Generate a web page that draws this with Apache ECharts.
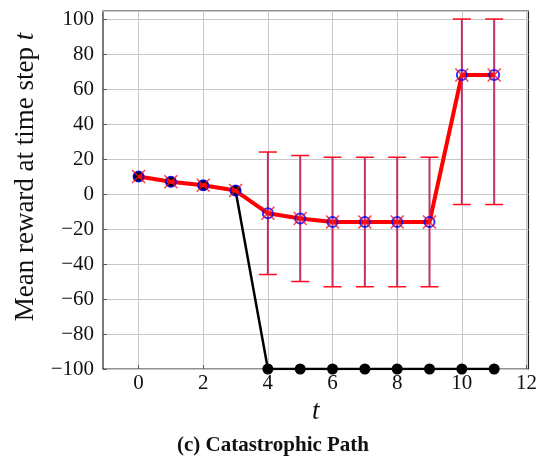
<!DOCTYPE html>
<html><head><meta charset="utf-8">
<script src="https://cdn.jsdelivr.net/npm/echarts@6/dist/echarts.min.js"></script>
<style>html,body{margin:0;padding:0;background:#fff}#c{width:540px;height:464px}</style>
</head><body><div id="c"></div>
<script>
const tSteps = [0,1,2,3,4,5,6,7,8,9,10,11];
const meanReward = [10,7,5,2,-11,-14,-16,-16,-16,-16,68,68];
const errLow = [10,7,5,2,-46,-50,-53,-53,-53,-53,-6,-6];
const errHigh = [10,7,5,2,24,22,21,21,21,21,100,100];
const catastrophic = [10,7,5,2,-100,-100,-100,-100,-100,-100,-100,-100];
const xTicks = [0,2,4,6,8,10,12];
const xRange = [-1.1, 12.06];
const yRange = [-100, 104.6];

const serif = '"Liberation Serif", "DejaVu Serif", serif';
const fmt = v => String(v).replace('-', '\u2212');

const chart = echarts.init(document.getElementById('c'), null, {renderer:'canvas'});
const pts = (ys) => tSteps.map((t,i)=>[t, ys[i]]);
const errData = tSteps.map((t,i)=>[t, errLow[i], errHigh[i]]);

chart.setOption({
  animation:false,
  grid:{left:103, right:11, top:11, bottom:95, show:true, borderColor:'#222', borderWidth:1.2},
  xAxis:{type:'value', min:xRange[0], max:xRange[1],
    axisLine:{show:false, onZero:false},
    axisTick:{inside:true, length:4, lineStyle:{color:'#555'}, customValues:xTicks},
    axisLabel:{fontFamily:serif, fontSize:21, color:'#111', margin:4, formatter:fmt, customValues:xTicks},
    splitLine:{show:false},
    name:'t', nameLocation:'middle', nameGap:24,
    nameTextStyle:{fontFamily:serif, fontSize:27, fontStyle:'italic', color:'#111'}},
  yAxis:{type:'value', min:yRange[0], max:yRange[1], interval:20,
    axisLine:{show:false, onZero:false},
    axisTick:{inside:true, length:4, lineStyle:{color:'#555'}},
    axisLabel:{fontFamily:serif, fontSize:21, color:'#111', margin:9, formatter:fmt, showMaxLabel:false},
    splitLine:{show:true, lineStyle:{color:'#c8c8c8'}},
    name:'{a|Mean reward at time step }{b|t}', nameLocation:'middle', nameGap:62,
    nameTextStyle:{fontFamily:serif, fontSize:27, color:'#111', padding:[0,0,0,26],
      rich:{a:{fontFamily:serif, fontSize:27, color:'#111'}, b:{fontFamily:serif, fontSize:27, fontStyle:'italic', color:'#111'}}}},
  graphic:[{type:'text', x:273, y:446, style:{text:'(c) Catastrophic Path', fontFamily:serif, fontSize:21, fontWeight:'bold', fill:'#111', align:'center', verticalAlign:'middle'}}],
  series:[
    {type:'line', data:[], z:0, silent:true,
      markLine:{silent:true, symbol:'none', z:0, label:{show:false},
        lineStyle:{color:'#c8c8c8', width:1, type:'solid'},
        data:xTicks.map(v=>({xAxis:v}))}},
    {type:'line', data:pts(catastrophic), z:2, lineStyle:{color:'#000', width:2.5},
      symbol:'circle', symbolSize:11, itemStyle:{color:'#000'}},
    {type:'line', data:pts(meanReward), z:3, lineStyle:{color:'#ff0000', width:4},
      symbol:'none'},
    {type:'custom', z:4, data:errData,
      renderItem:(params, api)=>{
        const x = api.value(0);
        const lo = api.coord([x, api.value(1)]);
        const hi = api.coord([x, api.value(2)]);
        if (Math.abs(lo[1]-hi[1]) < 1) return {type:'group', children:[]};
        const w = 9;
        return {type:'group', children:[
          {type:'line', shape:{x1:lo[0], y1:lo[1], x2:hi[0], y2:hi[1]}, style:{stroke:'#bf2f6c', lineWidth:2}},
          {type:'line', shape:{x1:lo[0]-w, y1:lo[1], x2:lo[0]+w, y2:lo[1]}, style:{stroke:'#ff0a1e', lineWidth:1.5}},
          {type:'line', shape:{x1:hi[0]-w, y1:hi[1], x2:hi[0]+w, y2:hi[1]}, style:{stroke:'#ff0a1e', lineWidth:1.5}}
        ]};
      }},
    {type:'scatter', z:5, data:pts(meanReward), symbol:'circle', symbolSize:10,
      itemStyle:{color:'rgba(0,0,0,0)', borderColor:'#0000ff', borderWidth:2}},
    {type:'scatter', z:6, data:pts(meanReward), symbol:'path://M0,0L10,10M10,0L0,10', symbolSize:13,
      itemStyle:{color:'none', borderColor:'#ff1010', borderWidth:1.5}}
  ]
});
</script></body></html>
